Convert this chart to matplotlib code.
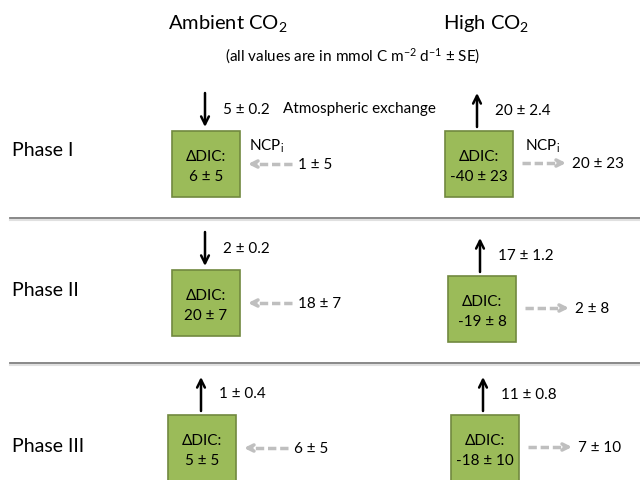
import matplotlib
matplotlib.use('Agg')
import matplotlib.pyplot as plt
from matplotlib.patches import Rectangle

plt.rcParams['font.family'] = ['Lato', 'DejaVu Sans']
plt.rcParams['mathtext.fontset'] = 'custom'
plt.rcParams['mathtext.rm'] = 'Lato'
plt.rcParams['mathtext.it'] = 'Lato'

phases = ['Phase I', 'Phase II', 'Phase III']
amb_dic = ['6 ± 5', '20 ± 7', '5 ± 5']
high_dic = ['-40 ± 23', '-19 ± 8', '-18 ± 10']
amb_atm = ['5 ± 0.2', '2 ± 0.2', '1 ± 0.4']
amb_atm_in = [True, True, False]
high_atm = ['20 ± 2.4', '17 ± 1.2', '11 ± 0.8']
amb_ncp = ['1 ± 5', '18 ± 7', '6 ± 5']
high_ncp = ['20 ± 23', '2 ± 8', '7 ± 10']

# layout (pixel coords, y down)
phase_y = [151, 291, 447]
amb_box = [(172, 132), (172, 271), (168, 416)]
high_box = [(445, 132), (448, 277), (451, 416)]
bw, bh = 68, 66
green = '#9bbb59'
green_edge = '#71893f'
gray = '#bfbfbf'

fig = plt.figure(figsize=(6.4, 4.81), dpi=100)
ax = fig.add_axes([0, 0, 1, 1])
ax.set_xlim(0, 640)
ax.set_ylim(481, 0)
ax.axis('off')

ax.text(168, 24, 'Ambient CO$_2$', fontsize=14.5, va='center', ha='left')
ax.text(443, 24, 'High CO$_2$', fontsize=14.5, va='center', ha='left')
ax.text(353, 56, '(all values are in mmol C m$^{-2}$ d$^{-1}$ ± SE)',
        fontsize=11, va='center', ha='center')

for yl in [219, 364]:
    ax.plot([10, 640], [yl + 1.5, yl + 1.5], color='#e0e0e0', lw=1.5)
    ax.plot([10, 640], [yl, yl], color='#7f7f7f', lw=1.3)

def box(x, y, val):
    ax.add_patch(Rectangle((x, y), bw, bh, facecolor=green, edgecolor=green_edge, lw=1.2))
    ax.text(x + bw / 2, y + 25, 'ΔDIC:', fontsize=11, ha='center', va='center')
    ax.text(x + bw / 2, y + 45, val, fontsize=11, ha='center', va='center')

def vert_arrow(x, ytop, ybot, down):
    if down:
        xy, xyt = (x, ybot), (x, ytop)
    else:
        xy, xyt = (x, ytop), (x, ybot)
    ax.annotate('', xy=xy, xytext=xyt,
                arrowprops=dict(arrowstyle='->', color='black', lw=1.8,
                                mutation_scale=14, shrinkA=0, shrinkB=0))

def dash_arrow(x0, x1, y):
    # x0 start, x1 head
    d = 1 if x1 > x0 else -1
    ax.plot([x0, x1 - d * 6], [y, y], color=gray, lw=2.5, ls=(0, (2.4, 1.1)))
    ax.annotate('', xy=(x1, y), xytext=(x1 - d * 8, y),
                arrowprops=dict(arrowstyle='->', color=gray, lw=2.5,
                                mutation_scale=11, shrinkA=0, shrinkB=0))

for i in range(3):
    ax.text(12, phase_y[i], phases[i], fontsize=14, va='center', ha='left')

    # ambient
    bx, by = amb_box[i]
    box(bx, by, amb_dic[i])
    vert_arrow(bx + 33, by - 38, by - 4, amb_atm_in[i])
    ax.text(bx + 51, by - 22, amb_atm[i], fontsize=11, va='center', ha='left')
    ny = by + 33
    dash_arrow(bx + 120, bx + 76, ny)
    ax.text(bx + 126, ny, amb_ncp[i], fontsize=11, va='center', ha='left')

    # high
    bx, by = high_box[i]
    box(bx, by, high_dic[i])
    vert_arrow(bx + 32, by - 38, by - 4, False)
    ax.text(bx + 50, by - 21, high_atm[i], fontsize=11, va='center', ha='left')
    ny = by + 32
    dash_arrow(bx + 77, bx + 121, ny)
    ax.text(bx + 127, ny, high_ncp[i], fontsize=11, va='center', ha='left')

ax.text(283, 109, 'Atmospheric exchange', fontsize=11, va='center', ha='left')
ax.text(249, 146, 'NCP$_\\mathrm{i}$', fontsize=11, va='center', ha='left')
ax.text(525, 146, 'NCP$_\\mathrm{i}$', fontsize=11, va='center', ha='left')

fig.savefig('out.png', dpi=100)
